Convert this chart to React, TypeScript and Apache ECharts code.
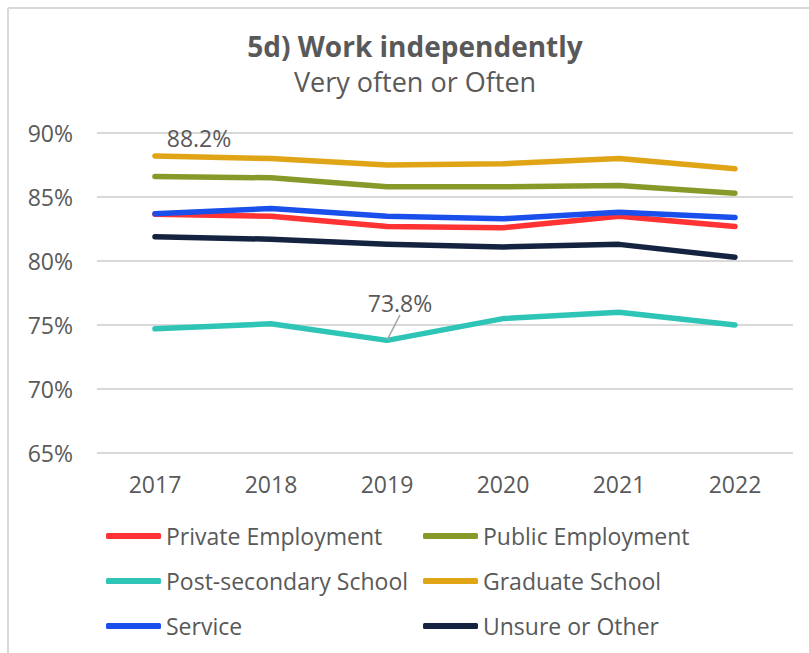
import React, { useEffect, useRef } from "react";
import * as echarts from "echarts";

const years = ["2017", "2018", "2019", "2020", "2021", "2022"];
const privateEmployment = [83.65, 83.5, 82.7, 82.6, 83.5, 82.7];
const publicEmployment = [86.6, 86.5, 85.8, 85.8, 85.9, 85.3];
const postSecondary = [74.7, 75.1, 73.8, 75.5, 76.0, 75.0];
const graduateSchool = [88.2, 88.0, 87.5, 87.6, 88.0, 87.2];
const service = [83.7, 84.1, 83.5, 83.3, 83.8, 83.4];
const unsureOther = [81.9, 81.7, 81.3, 81.1, 81.3, 80.3];

const FONT = "Open Sans";
const TEXT = "#595959";

export default function App() {
  const ref = useRef<HTMLDivElement>(null);
  useEffect(() => {
    if (!ref.current) return;
    const chart = echarts.init(ref.current, null, { renderer: "svg" });
    const mk = (name: string, data: any[], color: string, extra: any = {}) => ({
      name,
      type: "line",
      data,
      symbol: "circle",
      symbolSize: 1,
      showSymbol: true,
      lineStyle: { color, width: 5.5, cap: "round", join: "round" },
      itemStyle: { color },
      emphasis: { disabled: true },
      z: 3,
      ...extra,
    });
    const labelStyle = { fontFamily: FONT, fontSize: 23, color: TEXT, formatter: "{c}%" };
    const legendCommon = {
      orient: "vertical",
      top: 524,
      padding: 0,
      itemWidth: 55,
      itemHeight: 6,
      itemGap: 21,
      icon: "roundRect",
      textStyle: { fontFamily: FONT, fontSize: 23, color: TEXT, lineHeight: 24 },
    };
    chart.setOption({
      animation: false,
      textStyle: { fontFamily: FONT },
      title: {
        text: "5d) Work independently",
        subtext: "Very often or Often",
        left: 410,
        textAlign: "center",
        top: 25,
        itemGap: 3,
        textStyle: { fontFamily: FONT, fontSize: 28, fontWeight: "bold", color: TEXT, lineHeight: 32 },
        subtextStyle: { fontFamily: FONT, fontSize: 27, color: TEXT, lineHeight: 32 },
      },
      grid: { left: 97, right: 16, top: 133, bottom: 200, containLabel: false },
      xAxis: {
        type: "category",
        data: years,
        boundaryGap: true,
        axisLine: { show: false },
        axisTick: { show: false },
        axisLabel: { fontFamily: FONT, fontSize: 23, color: TEXT, margin: 19 },
      },
      yAxis: {
        type: "value",
        min: 65,
        max: 90,
        interval: 5,
        axisLine: { show: false },
        axisTick: { show: false },
        axisLabel: { fontFamily: FONT, fontSize: 23, color: TEXT, margin: 24, formatter: "{value}%" },
        splitLine: { lineStyle: { color: "#d9d9d9", width: 2 } },
      },
      legend: [
        { ...legendCommon, left: 106, data: ["Private Employment", "Post-secondary School", "Service"] },
        { ...legendCommon, left: 423, data: ["Public Employment", "Graduate School", "Unsure or Other"] },
      ],
      graphic: [
        { type: "line", shape: { x1: 8, y1: 8, x2: 809, y2: 8 }, style: { stroke: "#d9d9d9", lineWidth: 2 } },
        { type: "line", shape: { x1: 8, y1: 8, x2: 8, y2: 653 }, style: { stroke: "#d9d9d9", lineWidth: 2 } },
      ],
      series: [
        mk("Private Employment", privateEmployment, "#FF3333"),
        mk("Public Employment", publicEmployment, "#879A29"),
        mk(
          "Post-secondary School",
          postSecondary.map((v, i) =>
            i === 2 ? { value: v, label: { show: true, position: "top", ...labelStyle } } : v
          ),
          "#2EC4B6",
          {
            labelLine: { show: true, lineStyle: { color: "#a6a6a6", width: 1.5 } },
            labelLayout: (p: any) => (p.dataIndex === 2 ? { dx: 13, dy: -20 } : {}),
          }
        ),
        mk(
          "Graduate School",
          graduateSchool.map((v, i) =>
            i === 0
              ? { value: v, label: { show: true, position: "top", distance: 6, offset: [44, 0], ...labelStyle } }
              : v
          ),
          "#E0A417"
        ),
        mk("Service", service, "#1A4FEB"),
        mk("Unsure or Other", unsureOther, "#14233F"),
      ],
    });
    return () => chart.dispose();
  }, []);
  return <div ref={ref} style={{ width: 809, height: 653, position: "absolute", left: 0, top: 0, background: "#fff" }} />;
}
